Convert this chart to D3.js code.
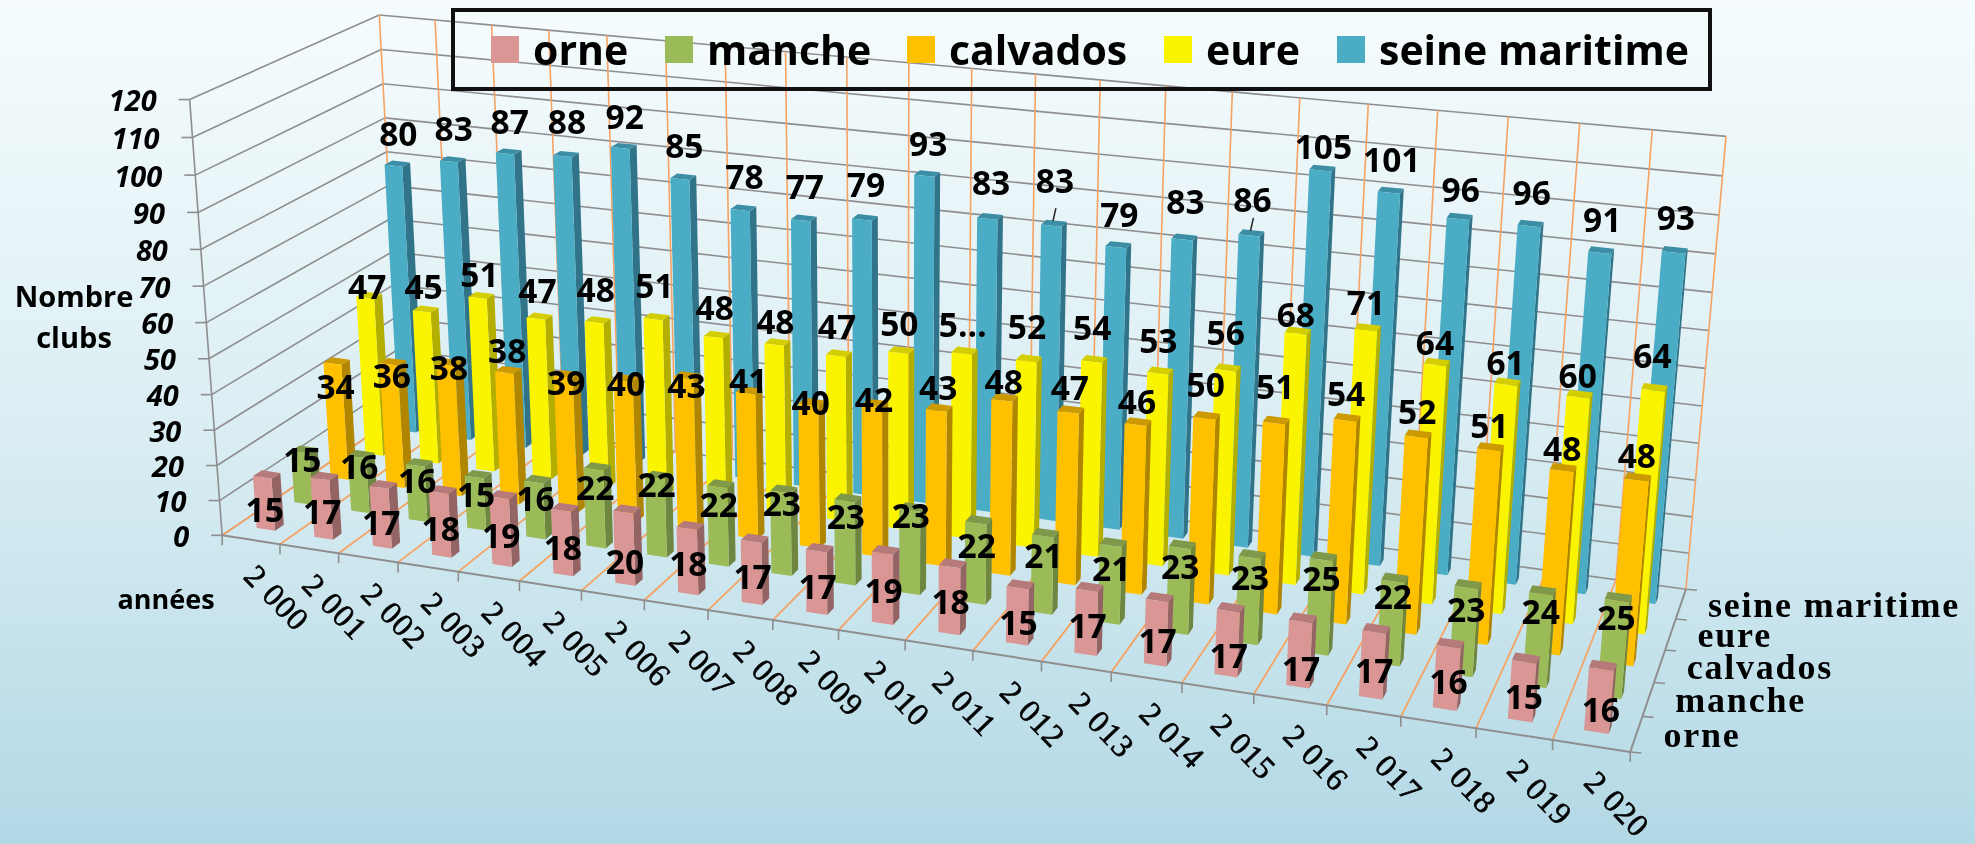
<!DOCTYPE html>
<html><head><meta charset="utf-8">
<script src="https://cdn.jsdelivr.net/npm/d3@7/dist/d3.min.js"></script>
<style>html,body{margin:0;padding:0;overflow:hidden}svg{display:block;filter:blur(0.5px)}</style>
</head><body><svg id="c" width="1975" height="844"></svg>
<script>
const years=["2 000","2 001","2 002","2 003","2 004","2 005","2 006","2 007","2 008","2 009","2 010","2 011","2 012","2 013","2 014","2 015","2 016","2 017","2 018","2 019","2 020"];
const seriesNames=["orne","manche","calvados","eure","seine maritime"];
const orne=[15,17,17,18,19,18,20,18,17,17,19,18,15,17,17,17,17,17,16,15,16];
const manche=[15,16,16,15,16,22,22,22,23,23,23,22,21,21,23,23,25,22,23,24,25];
const calvados=[34,36,38,38,39,40,43,41,40,42,43,48,47,46,50,51,54,52,51,48,48];
const eure=[47,45,51,47,48,51,48,48,47,50,52,52,54,53,56,68,71,64,61,60,64];
const seine=[80,83,87,88,92,85,78,77,79,93,83,83,79,83,86,105,101,96,96,91,93];
const yTicks=[0,10,20,30,40,50,60,70,80,90,100,110,120];
const front=["#d99694","#9bbb59","#ffc000","#fbf400","#4bacc6"];
const side=["#936463","#6f8640","#b08500","#b3ae00","#31748a"];
const topc=["#b57a79","#7f9849","#cc9a00","#d4ce00","#3c8ea6"];
const labelDy=[38,20,-20,-21,-32];
const labelDx=[-2,-2,-1,-2,1];
// hand-placed label drift seen in the reference, per series and year
const nudgeOrne=[-3,-3,0,0,2,2,14,0,0,0,2,0,0,0,5,10,12,4,0,0,6];
const nudgeManche=[-10,-8,-2,0,-1,0,-11,0,-6,-2,-12,5,2,6,2,3,2,-2,5,0,0];
const nudgeCalvados=[45,33,25,0,28,25,30,10,20,16,0,4,-2,-1,-11,-14,-4,-3,-2,0,-2];
const nudgeEure=[12,-2,0,-5,-10,-11,-7,0,-6,-6,-6,-11,-11,-10,-15,4,-4,1,1,2,-11];
const nudgeSeine=[1,1,2,-1,2,0,0,0,-1,2,-2,-11,1,-4,-2,10,1,5,1,1,-1];
const leaderYears=["2 011","2 014"];

// Camera calibration: unit-cube corners of the plot box -> page position
const calib=[[0,0,0,223,536],[1,0,0,1629,752],[1,0,1,1687,589],[0,0,1,399,411],[0,1,0,187.5,98.7],[0,1,1,381,15],[1,1,1,1726,136],
[0,.5,0,207.6,321],[1,.5,1,1705,368],[0,.5,1,390,222.5],[8/21,0,0,709,611],[16/21,0,0,1254,695]];
function solve(A,b){const n=b.length;const M=A.map((r,i)=>[...r,b[i]]);
 for(let i=0;i<n;i++){let p=i;for(let k=i+1;k<n;k++)if(Math.abs(M[k][i])>Math.abs(M[p][i]))p=k;[M[i],M[p]]=[M[p],M[i]];
  for(let k=i+1;k<n;k++){const f=M[k][i]/M[i][i];for(let j=i;j<=n;j++)M[k][j]-=f*M[i][j];}}
 const x=Array(n);for(let i=n-1;i>=0;i--){let s=M[i][n];for(let j=i+1;j<n;j++)s-=M[i][j]*x[j];x[i]=s/M[i][i];}return x;}
const rows=[],rhs=[];
calib.forEach(([X,Y,Z,u,v])=>{rows.push([X,Y,Z,1,0,0,0,0,-u*X,-u*Y,-u*Z]);rhs.push(u);rows.push([0,0,0,0,X,Y,Z,1,-v*X,-v*Y,-v*Z]);rhs.push(v);});
const AtA=d3.range(11).map(i=>d3.range(11).map(j=>d3.sum(rows,r=>r[i]*r[j])));
const Atb=d3.range(11).map(i=>d3.sum(rows,(r,k)=>r[i]*rhs[k]));
const P=solve(AtA,Atb);
function proj(X,Y,Z){const w=P[8]*X+P[9]*Y+P[10]*Z+1;return[(P[0]*X+P[1]*Y+P[2]*Z+P[3])/w,(P[4]*X+P[5]*Y+P[6]*Z+P[7])/w];}

const xCell=d3.scaleBand().domain(years).range([0,1]);
const zCell=d3.scaleBand().domain(seriesNames).range([0,1]);
const xBar=d3.scaleBand().domain(years).range([0,1]).paddingInner(.68).paddingOuter(.34);
const zBar=d3.scaleBand().domain(seriesNames).range([0,1]).paddingInner(.77).paddingOuter(.385);
const yS=d3.scaleLinear().domain([0,120]).range([0,1]);
const xEdges=d3.range(years.length+1).map(i=>i*xCell.step());
const zEdges=d3.range(seriesNames.length+1).map(i=>i*zCell.step());

const svg=d3.select("#c");
const defs=svg.append("defs");
const g=defs.append("linearGradient").attr("id","bg").attr("x1",0).attr("y1",0).attr("x2",0).attr("y2",1);
g.append("stop").attr("offset","0").attr("stop-color","#f6fcfd");
g.append("stop").attr("offset","0.5").attr("stop-color","#dbeef3");
g.append("stop").attr("offset","1").attr("stop-color","#b2d8e5");
svg.append("rect").attr("x",-5).attr("y",-5).attr("width",1985).attr("height",854).attr("fill","url(#bg)");

const line=(a,b,col,w)=>svg.append("line").attr("x1",a[0]).attr("y1",a[1]).attr("x2",b[0]).attr("y2",b[1]).attr("stroke",col).attr("stroke-width",w);
const GREY="#8e8e8e",OR="#f6a263";
// walls
yTicks.forEach(t=>{const v=yS(t);
 line(proj(0,v,0),proj(0,v,1),GREY,1.6);
 line(proj(0,v,1),proj(1,v,1),GREY,1.6);
 const p=proj(0,v,0);line([p[0]-11,p[1]],p,GREY,1.6);
});
xEdges.forEach(x=>line(proj(x,0,1),proj(x,1,1),OR,1.6));
xEdges.slice(0,-1).forEach(x=>line(proj(x,0,0),proj(x,0,1),OR,1.8));
line(proj(0,0,0),proj(1,0,0),GREY,2);
line(proj(1,0,0),proj(1,0,1),GREY,2);
line(proj(0,0,0),proj(0,1,0),GREY,1.6);
xEdges.forEach(x=>{const p=proj(x,0,0);line(p,[p[0],p[1]+10],GREY,1.6);});
zEdges.forEach(z=>{const p=proj(1,0,z);line(p,[p[0]+11,p[1]+1],GREY,1.6);});

// bars, far to near
const table=[orne,manche,calvados,eure,seine];
const nudges=[nudgeOrne,nudgeManche,nudgeCalvados,nudgeEure,nudgeSeine];
const poly=(pts,fill)=>svg.append("polygon").attr("points",pts.map(p=>p.join(",")).join(" ")).attr("fill",fill);
[4,3,2,1,0].forEach(s=>{years.forEach((yr,i)=>{
 const x0=xBar(yr),x1=x0+xBar.bandwidth(),z0=zBar(seriesNames[s]),z1=z0+zBar.bandwidth(),h=yS(table[s][i]);
 poly([proj(x1,0,z0),proj(x1,0,z1),proj(x1,h,z1),proj(x1,h,z0)],side[s]);
 poly([proj(x0,h,z0),proj(x1,h,z0),proj(x1,h,z1),proj(x0,h,z1)],topc[s]);
 poly([proj(x0,0,z0),proj(x1,0,z0),proj(x1,h,z0),proj(x0,h,z0)],front[s]);
});});

const text=(x,y,s,o)=>{const t=svg.append("text").attr("x",x).attr("y",y).text(s).attr("fill","#000")
 .attr("font-family",o.f||"'Open Sans'").attr("font-size",o.s).attr("font-weight",o.w||600).attr("dominant-baseline","central").attr("text-anchor",o.a||"middle");
 if(o.i)t.attr("font-style","italic"); if(o.ls)t.attr("letter-spacing",o.ls); if(o.r!=null)t.attr("transform",`rotate(${o.r} ${x} ${y})`);
 if(o.sw)t.attr("stroke","#000").attr("stroke-width",o.sw);return t;};

// data labels
[0,1,2,3,4].forEach(s=>{years.forEach((yr,i)=>{
 const c=proj(xBar(yr)+xBar.bandwidth()/2,yS(table[s][i]),zBar(seriesNames[s])+zBar.bandwidth()/2);
 const lab=(s===3&&i===10)?"5…":String(table[s][i]);
 text(c[0]+labelDx[s],c[1]+labelDy[s]+nudges[s][i],lab,{s:33.5,w:700});
 if(s===4&&leaderYears.includes(yr)) line([c[0]+2,c[1]-15],[c[0]-1,c[1]-2],"#222",1.5);
});});

// axis labels
yTicks.forEach(t=>{const p=proj(0,yS(t),0);text(p[0]-33,p[1],String(t),{s:29,w:700,i:1,a:"end"});});
years.forEach(yr=>{const p=proj(xCell(yr)+xCell.bandwidth()/2,0,0);text(p[0]+26,p[1]+58,yr,{f:"'Liberation Serif'",s:32,w:400,r:46,ls:"1px",sw:0.6});});
seriesNames.forEach(n=>{const p=proj(1,0,zCell(n)+zCell.bandwidth()/2);text(p[0]+27,p[1]+1,n,{f:"'Liberation Serif'",s:36,w:700,a:"start",ls:"1.8px"});});
text(74,295,"Nombre",{s:29,w:700});
text(74,336,"clubs",{s:29,w:700});
text(166,598,"années",{s:27,w:700});

// legend
svg.append("rect").attr("x",453).attr("y",10).attr("width",1257).attr("height",79).attr("fill","none").attr("stroke","#111").attr("stroke-width",4);
const legX=d3.scaleOrdinal().domain(seriesNames).range([491,665,907,1164,1337]);
seriesNames.forEach((n,i)=>{
 svg.append("rect").attr("x",legX(n)).attr("y",36).attr("width",28).attr("height",27).attr("fill",front[i]);
 text(legX(n)+42,49,n,{s:41,w:700,a:"start"});
});
</script></body></html>
